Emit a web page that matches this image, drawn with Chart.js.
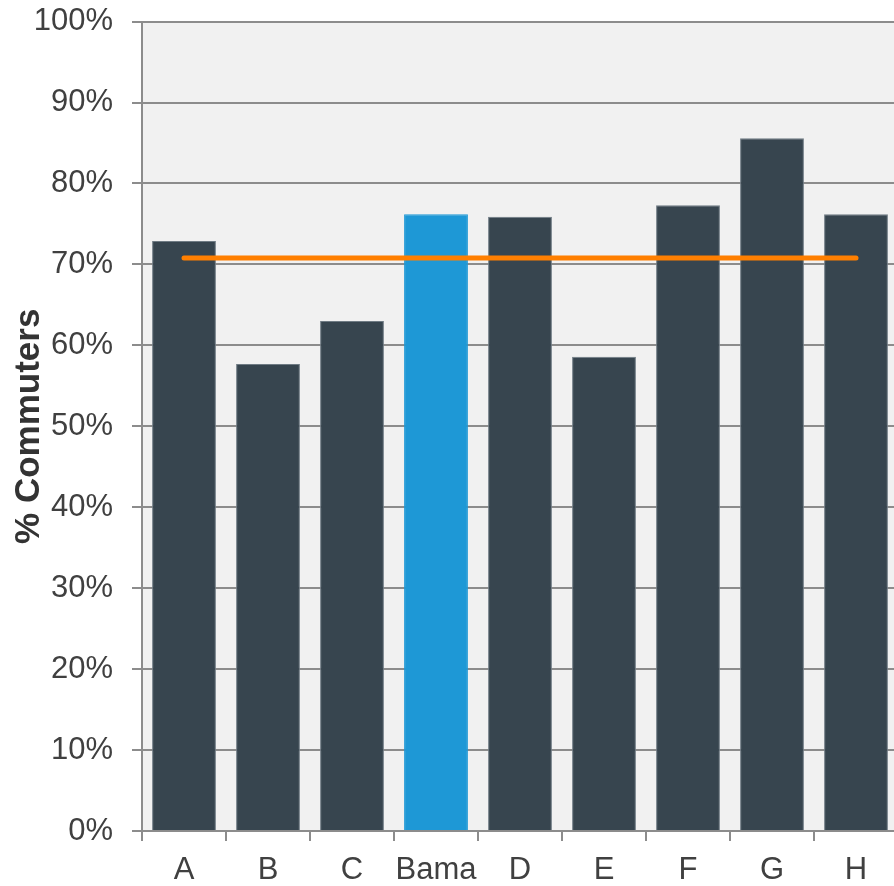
<!DOCTYPE html>
<html>
<head>
<meta charset="utf-8">
<script src="https://cdn.jsdelivr.net/npm/chart.js@4.4.1/dist/chart.umd.min.js"></script>
<style>
  html, body { margin: 0; padding: 0; background: #fff; overflow: hidden; }
  #wrap { width: 898px; height: 902px; margin-top: -16px; position: relative; }
</style>
</head>
<body>
<div id="wrap"><canvas id="chart"></canvas></div>
<script>
const categories = ['A', 'B', 'C', 'Bama', 'D', 'E', 'F', 'G', 'H'];
const commuterShare = [72.9, 57.7, 63.0, 76.2, 75.9, 58.6, 77.3, 85.6, 76.2];
const averageShare = 70.8;
const yTicks = [0, 10, 20, 30, 40, 50, 60, 70, 80, 90, 100];

const DARK = '#37454f';
const HIGHLIGHT = '#1e98d6';
const GRID = '#8c8c8c';
const FONT = '"Liberation Sans", Arial, sans-serif';

const barColors = categories.map(c => c === 'Bama' ? HIGHLIGHT : DARK);
const barBorders = categories.map(c => c === 'Bama' ? HIGHLIGHT : '#6f7b84');

// light grey fill behind the plot area
const plotBackground = {
  id: 'plotBackground',
  beforeDraw(chart) {
    const { ctx, chartArea: a } = chart;
    ctx.save();
    ctx.fillStyle = '#f1f1f1';
    ctx.fillRect(a.left, a.top, a.right - a.left, a.bottom - a.top);
    ctx.restore();
  }
};

new Chart(document.getElementById('chart'), {
  type: 'bar',
  data: {
    labels: categories,
    datasets: [
      {
        type: 'line',
        data: categories.map(() => averageShare),
        borderColor: '#ff7f00',
        borderWidth: 5,
        borderCapStyle: 'round',
        pointRadius: 0,
        order: 0
      },
      {
        data: commuterShare,
        backgroundColor: barColors,
        borderColor: barBorders,
        borderWidth: 1,
        barPercentage: 0.76,
        categoryPercentage: 1,
        order: 1
      }
    ]
  },
  options: {
    responsive: true,
    maintainAspectRatio: false,
    animation: false,
    layout: { padding: { top: 5, right: 0, bottom: 0, left: 0 } },
    plugins: {
      legend: { display: false },
      tooltip: { enabled: false }
    },
    scales: {
      x: {
        grid: {
          offset: true,
          drawOnChartArea: false,
          color: GRID,
          lineWidth: 2,
          tickLength: 10
        },
        border: { color: GRID, width: 2 },
        ticks: {
          color: '#404040',
          padding: 11,
          maxRotation: 0,
          minRotation: 0,
          autoSkip: false,
          font: { family: FONT, size: 31 }
        },
        afterFit(scale) { scale.height = 55; }
      },
      y: {
        min: 0,
        max: 100,
        afterBuildTicks(scale) { scale.ticks = yTicks.map(v => ({ value: v })); },
        grid: { color: GRID, lineWidth: 2, tickLength: 10 },
        border: { color: GRID, width: 2 },
        ticks: {
          color: '#404040',
          padding: 19,
          font: { family: FONT, size: 31 },
          callback: v => v + '%'
        },
        title: {
          display: true,
          text: '% Commuters',
          color: '#333333',
          padding: { top: 8, bottom: 0 },
          font: { family: FONT, size: 35, weight: 'bold' }
        },
        afterFit(scale) { scale.width = 142; }
      }
    }
  },
  plugins: [plotBackground]
});
</script>
</body>
</html>
